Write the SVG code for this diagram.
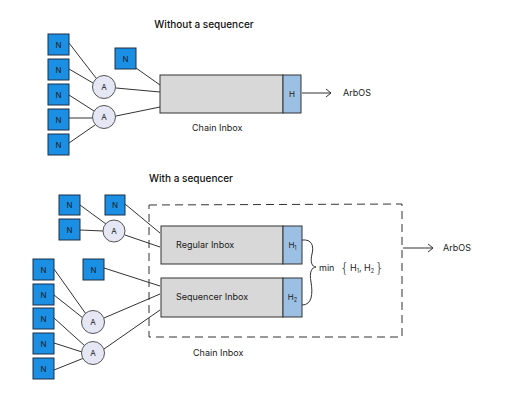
<svg xmlns="http://www.w3.org/2000/svg" width="520" height="400" viewBox="0 0 520 400">
<defs>
<style>
.n rect{fill:#1a8fe3;stroke:#1c2e44;stroke-width:1}
.n text,.a text,.t{font-family:Inter,"Liberation Sans",sans-serif;font-size:8px;fill:#1a1a1a;text-anchor:middle}
.a circle{fill:#e5e7f5;stroke:#555;stroke-width:1}
.box{fill:#d8d8d8;stroke:#333;stroke-width:1}
.h{fill:#9cc0e3;stroke:#333;stroke-width:1}
.lbl{font-family:Inter,"Liberation Sans",sans-serif;font-size:9px;fill:#1a1a1a}
.brace{font-family:"DejaVu Sans","Liberation Sans",sans-serif;font-size:14px;font-weight:300;fill:#1a1a1a}
.title{font-family:Inter,"Liberation Sans",sans-serif;font-size:10px;font-weight:500;fill:#111;text-anchor:middle}
.c line,.c path{stroke:#333;stroke-width:1;fill:none}
</style>
<marker id="arr" markerWidth="10" markerHeight="10" refX="8" refY="5" orient="auto" markerUnits="userSpaceOnUse">
<path d="M3,1 L8,5 L3,9" fill="none" stroke="#333" stroke-width="1"/>
</marker>
</defs>
<rect width="520" height="400" fill="#fff"/>

<text class="title" x="204" y="28">Without a sequencer</text>
<text class="title" x="191" y="182">With a sequencer</text>

<g id="connectors" class="c">
<!-- top -->
<line x1="69" y1="43" x2="96" y2="78"/>
<line x1="69" y1="69" x2="93" y2="83"/>
<line x1="69" y1="95" x2="94" y2="111"/>
<line x1="69" y1="118" x2="93" y2="118"/>
<line x1="69" y1="143" x2="95" y2="125"/>
<line x1="116" y1="88" x2="160" y2="92"/>
<line x1="116" y1="116" x2="160" y2="107"/>
<line x1="136" y1="68" x2="160" y2="85"/>
<line x1="302" y1="93" x2="331" y2="93" marker-end="url(#arr)"/>
<!-- bottom -->
<line x1="80" y1="205" x2="106" y2="224"/>
<line x1="80" y1="230" x2="103" y2="231"/>
<line x1="125" y1="204" x2="160" y2="233"/>
<line x1="125" y1="235" x2="160" y2="247"/>
<line x1="54" y1="269" x2="86" y2="314"/>
<line x1="54" y1="295" x2="83" y2="318"/>
<line x1="54" y1="318" x2="85" y2="346"/>
<line x1="54" y1="343" x2="82" y2="352"/>
<line x1="54" y1="370" x2="84" y2="358"/>
<line x1="104" y1="318" x2="160" y2="294"/>
<line x1="104" y1="349" x2="160" y2="310"/>
<line x1="104" y1="268" x2="160" y2="286"/>
<path d="M149,205 L402,204 L402,337 L149,337 Z" stroke-dasharray="8,5"/>
<line x1="403" y1="248" x2="433" y2="248" marker-end="url(#arr)"/>
<path d="M302,240 C312,239 314,246 312,254 C310,262 312,267 316,267 C312,267 309,272 311,282 C313,294 312,305 302,305"/>
</g>

<!-- top nodes -->
<g id="n1" class="n"><rect x="48" y="34" width="21" height="21"/><text x="58.5" y="47.5">N</text></g>
<g id="n2" class="n"><rect x="48" y="59" width="21" height="21"/><text x="58.5" y="72.5">N</text></g>
<g id="n3" class="n"><rect x="48" y="84" width="21" height="21"/><text x="58.5" y="97.5">N</text></g>
<g id="n4" class="n"><rect x="48" y="109" width="21" height="21"/><text x="58.5" y="122.5">N</text></g>
<g id="n5" class="n"><rect x="48" y="134" width="21" height="21"/><text x="58.5" y="147.5">N</text></g>
<g id="n6" class="n"><rect x="115" y="48" width="21" height="21"/><text x="125.5" y="61.5">N</text></g>
<g id="a1" class="a"><circle cx="104" cy="87" r="11.5"/><text x="104" y="90">A</text></g>
<g id="a2" class="a"><circle cx="104" cy="117" r="11.5"/><text x="104" y="120">A</text></g>
<g id="chain-inbox">
<rect class="box" x="160" y="75" width="123" height="38"/>
<rect class="h" x="283" y="75" width="18" height="38"/>
<text class="t" x="292" y="97">H</text>
<text class="lbl" x="192" y="131">Chain Inbox</text>
</g>
<text id="arbos1" class="lbl" x="343" y="96">ArbOS</text>

<!-- bottom nodes -->
<g id="n7" class="n"><rect x="59" y="195" width="21" height="20"/><text x="69.5" y="208">N</text></g>
<g id="n8" class="n"><rect x="59" y="219" width="21" height="21"/><text x="69.5" y="232.5">N</text></g>
<g id="n9" class="n"><rect x="105" y="195" width="20" height="20"/><text x="115" y="208">N</text></g>
<g id="a3" class="a"><circle cx="114" cy="231" r="11"/><text x="114" y="234">A</text></g>
<g id="n10" class="n"><rect x="33" y="259" width="21" height="21"/><text x="43.5" y="272.5">N</text></g>
<g id="n11" class="n"><rect x="33" y="284" width="21" height="21"/><text x="43.5" y="297.5">N</text></g>
<g id="n12" class="n"><rect x="33" y="308" width="21" height="21"/><text x="43.5" y="321.5">N</text></g>
<g id="n13" class="n"><rect x="33" y="333" width="21" height="21"/><text x="43.5" y="346.5">N</text></g>
<g id="n14" class="n"><rect x="33" y="358" width="21" height="21"/><text x="43.5" y="371.5">N</text></g>
<g id="n15" class="n"><rect x="83" y="259" width="21" height="21"/><text x="93.5" y="272.5">N</text></g>
<g id="a4" class="a"><circle cx="93" cy="322" r="11.5"/><text x="93" y="325">A</text></g>
<g id="a5" class="a"><circle cx="93" cy="353" r="11.5"/><text x="93" y="356">A</text></g>
<g id="regular-inbox">
<rect class="box" x="161" y="226" width="122" height="38"/>
<rect class="h" x="283" y="226" width="19" height="38"/>
<text class="t" x="292.5" y="248">H<tspan style="font-size:5.5px" dy="1.5">1</tspan></text>
<text class="lbl" x="176" y="248">Regular Inbox</text>
</g>
<g id="sequencer-inbox">
<rect class="box" x="161" y="278" width="122" height="39"/>
<rect class="h" x="283" y="278" width="19" height="39"/>
<text class="t" x="292.5" y="300">H<tspan style="font-size:5.5px" dy="1.5">2</tspan></text>
<text class="lbl" x="176" y="300">Sequencer Inbox</text>
</g>
<g id="min-label">
<text class="lbl" x="319" y="271">min</text>
<text class="brace" x="340" y="273">{</text>
<text class="lbl" x="350" y="271">H<tspan style="font-size:5.5px" dy="1.5">1</tspan><tspan dy="-1.5">, H</tspan><tspan style="font-size:5.5px" dy="1.5">2</tspan></text>
<text class="brace" x="375" y="273">}</text>
</g>
<text id="chain-label" class="lbl" x="193" y="356">Chain Inbox</text>
<text id="arbos2" class="lbl" x="443" y="251">ArbOS</text>
</svg>
